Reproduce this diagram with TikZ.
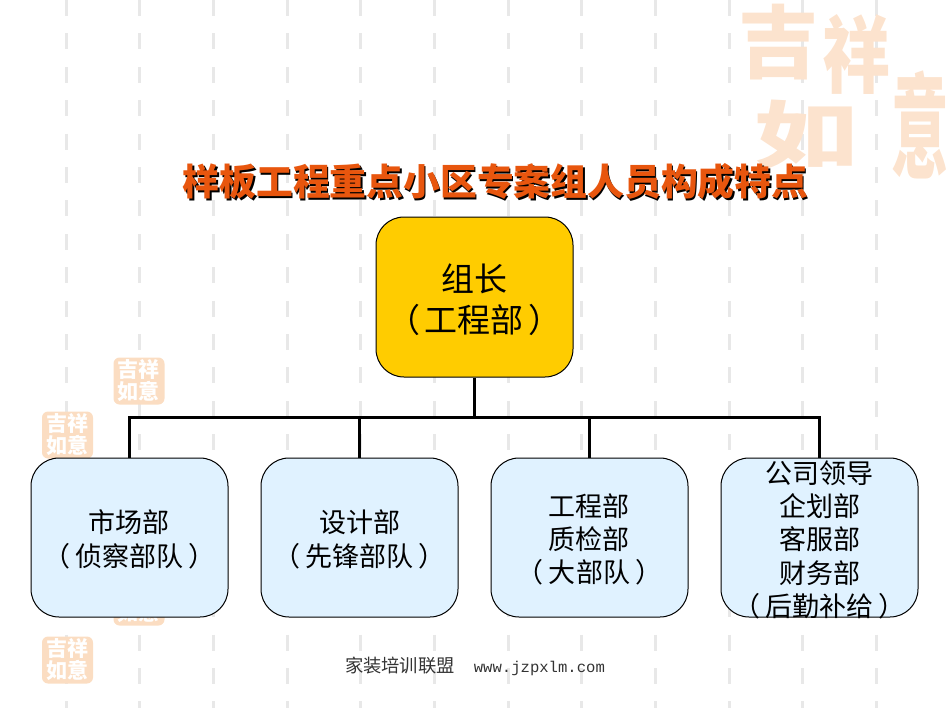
\documentclass[tikz,border=0pt]{standalone}
\usepackage{fontspec}
\setmainfont{Noto Sans CJK SC}
\newfontfamily\latinfont{Liberation Mono}
\definecolor{sealcolor}{HTML}{FCE3CE}
\definecolor{stampcolor}{HTML}{FBDDC2}
\definecolor{railgrey}{HTML}{E8E8E8}
\definecolor{titlecolor}{HTML}{E8560E}
\definecolor{headcolor}{HTML}{FFCC00}
\definecolor{deptcolor}{HTML}{E0F2FF}
\newcommand{\headstrut}{\rule{0pt}{16.4pt}}
\newcommand{\deptstrut}{\rule{0pt}{13.2pt}}
\tikzset{
    headbox/.style={draw,line width=0.5pt,rounded corners=14pt,fill=headcolor,minimum width=98.5pt,minimum height=80pt,inner sep=0pt,align=center,font=\fontsize{16.5}{20.5}\selectfont},
    deptbox/.style={draw,line width=0.5pt,rounded corners=14pt,fill=deptcolor,minimum width=98.5pt,minimum height=79.5pt,inner sep=0pt,align=center,font=\fontsize{13.5}{16.7}\selectfont},
    stampbox/.style={fill=stampcolor,rounded corners=3pt,minimum width=25.5pt,minimum height=23.5pt,inner sep=0pt,align=center,text=white,font=\fontsize{10.5}{11}\selectfont\bfseries},
    sealchar/.style={text=sealcolor,inner sep=0pt,font=\fontsize{40}{40}\selectfont\bfseries},
    titletext/.style={inner sep=0pt,font=\fontsize{18.4}{22}\selectfont\bfseries}
}
\begin{document}
\begin{tikzpicture}[x=0.5pt,y=-0.5pt]
    \useasboundingbox (0,0) rectangle (950,713);

    % background
    \foreach \x in {66,139.5,213,287,360.5,434,508,581.5,655,729,802.5,876}
        \path[draw,line width=1.5pt,railgrey,dash pattern=on 8pt off 8.7pt] (\x,0) -- (\x,708);
    \node[sealchar] (sealone) at (778,42) {吉};
    \node[sealchar,xscale=0.85,yscale=1.05] (sealtwo) at (856,54) {祥};
    \node[sealchar,xscale=1.3,yscale=0.92] (sealthree) at (806,135) {如};
    \node[sealchar,xscale=0.72,yscale=1.42] (sealfour) at (920,125) {意};
    \node[stampbox] (stampone) at (139,381) {吉祥\\如意};
    \node[stampbox] (stamptwo) at (67.5,435) {吉祥\\如意};
    \node[stampbox] (stampthree) at (139,602) {吉祥\\如意};
    \node[stampbox] (stampfour) at (67.5,660) {吉祥\\如意};

    % title
    \node[titletext,text=black] (titleshadow) at (497,183) {样板工程重点小区专案组人员构成特点};
    \node[titletext,text=titlecolor] (title) at (495.5,181) {样板工程重点小区专案组人员构成特点};

    % boxes
    \node[headbox] (head) at (474.5,297) {\headstrut 组长\\（\kern2.2pt工程部\kern2.2pt）};
    \node[deptbox] (market) at (129.5,537.5) {\deptstrut 市场部\\（\kern2.7pt侦察部队\kern2.7pt）};
    \node[deptbox] (design) at (359.5,537.5) {\deptstrut 设计部\\（\kern2.7pt先锋部队\kern2.7pt）};
    \node[deptbox] (works) at (589.5,537.5) {\deptstrut 工程部\\质检部\\（\kern2.7pt大部队\kern2.7pt）};
    \node[deptbox,text height=79.2pt,text depth=0pt] (support) at (819.5,537.5) {公司领导\\企划部\\客服部\\财务部\\（\kern2.7pt后勤补给\kern2.7pt）};

    % connectors
    \coordinate (rail) at (474.5,417);
    \path[draw,line width=1.5pt] (head.south) -- (rail);
    \path[draw,line width=1.5pt] (market.north) |- (rail);
    \path[draw,line width=1.5pt] (design.north) |- (rail);
    \path[draw,line width=1.5pt] (works.north) |- (rail);
    \path[draw,line width=1.5pt] (support.north) |- (rail);

    % footer
    \node[inner sep=0pt,text=black!80,font=\fontsize{9.15}{11}\selectfont] (footer) at (475,666) {家装培训联盟\hspace{9.5pt}{\latinfont\fontsize{7.8}{11}\selectfont www.jzpxlm.com}};
\end{tikzpicture}
\end{document}
